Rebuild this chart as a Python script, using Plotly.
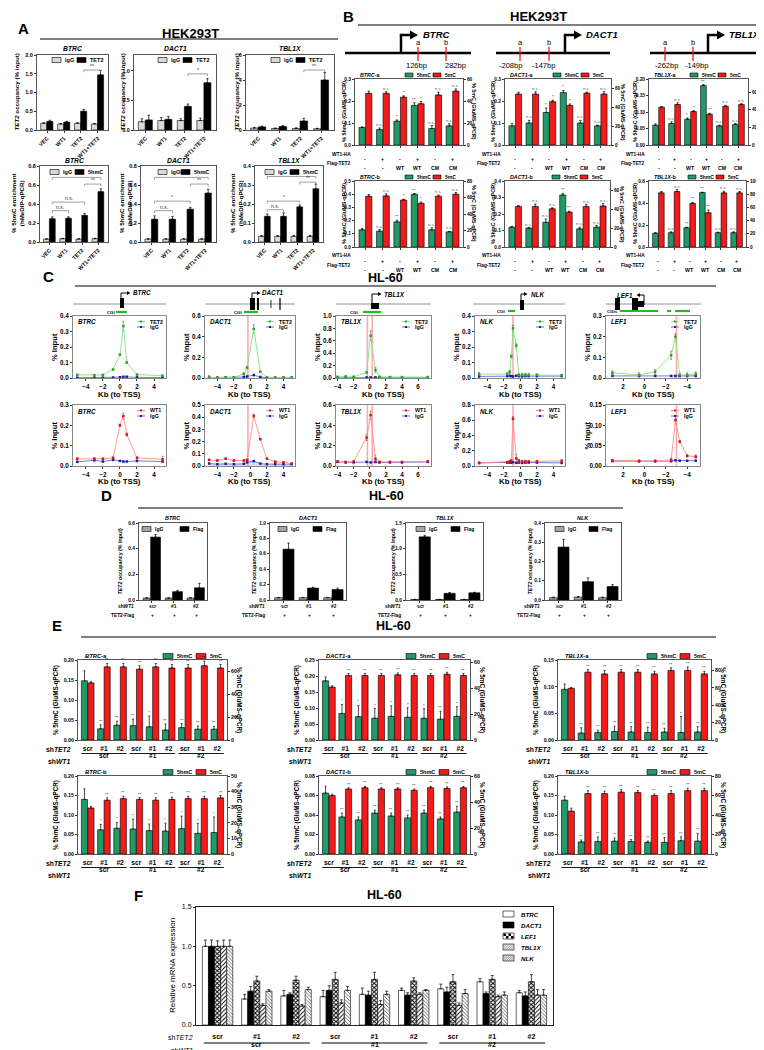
import plotly.graph_objects as go

W, H = 764, 1050
FONT = "Liberation Sans"
GREEN = "#1f9a68"
RED = "#f21a1a"
LGRAY = "#d9d9d9"
DGRAY = "#a6a6a6"
FRAME = "#555555"

# ======================= DATA =======================
# ---- Panel A (HEK293T ChIP / hMeDIP) ----
A_CATS = ["VEC", "WT1", "TET2", "WT1+TET2"]
A1_BTRC_IGG = [0.18, 0.16, 0.18, 0.16]
A1_BTRC_IGG_ERR = [0.01, 0.01, 0.01, 0.015]
A1_BTRC_TET2 = [0.23, 0.21, 0.50, 1.47]
A1_BTRC_TET2_ERR = [0.03, 0.02, 0.05, 0.12]
A1_DACT1_IGG = [0.14, 0.16, 0.16, 0.16]
A1_DACT1_IGG_ERR = [0.05, 0.05, 0.03, 0.04]
A1_DACT1_TET2 = [0.17, 0.18, 0.40, 0.80]
A1_DACT1_TET2_ERR = [0.08, 0.05, 0.04, 0.07]
A1_TBL1X_IGG = [0.15, 0.12, 0.12, 0.10]
A1_TBL1X_IGG_ERR = [0.05, 0.04, 0.06, 0.03]
A1_TBL1X_TET2 = [0.25, 0.28, 0.72, 4.0]
A1_TBL1X_TET2_ERR = [0.06, 0.08, 0.22, 0.6]
A1_BTRC_SIG = [(2, 3, 1.6, "**")]
A1_DACT1_SIG = [(2, 3, 0.95, "*")]
A1_TBL1X_SIG = [(2, 3, 4.8, "**")]

A2_IGG_ERR = [0.004, 0.004, 0.004, 0.004]
A2_BTRC_IGG = [0.03, 0.035, 0.03, 0.035]
A2_BTRC_5HMC = [0.245, 0.25, 0.28, 0.53]
A2_BTRC_5HMC_ERR = [0.02, 0.015, 0.02, 0.03]
A2_DACT1_IGG = [0.03, 0.03, 0.03, 0.03]
A2_DACT1_5HMC = [0.24, 0.24, 0.345, 0.515]
A2_DACT1_5HMC_ERR = [0.035, 0.03, 0.02, 0.04]
A2_TBL1X_IGG = [0.03, 0.03, 0.03, 0.03]
A2_TBL1X_5HMC = [0.135, 0.135, 0.185, 0.28]
A2_TBL1X_5HMC_ERR = [0.012, 0.018, 0.01, 0.025]
A2_BTRC_SIG = [(0, 1, 0.33, "n.s."), (0, 2, 0.42, "n.s."), (2, 3, 0.61, "**"), (0, 3, 0.68, "**")]
A2_DACT1_SIG = [(0, 1, 0.33, "n.s."), (0, 2, 0.43, "*"), (2, 3, 0.61, "**"), (0, 3, 0.68, "**")]
A2_TBL1X_SIG = [(0, 1, 0.17, "n.s."), (0, 2, 0.215, "*"), (2, 3, 0.315, "**"), (0, 3, 0.345, "**")]

# ---- Panel B (GluMS-qPCR, HEK293T) ----
B_WT1HA = ["-", "+", "-", "+", "-", "+"]
B_FLAG = ["-", "-", "WT", "WT", "CM", "CM"]
B_CATS = ["-/-", "+/-", "-/WT", "+/WT", "-/CM", "+/CM"]
Ba_BTRC_5HMC = [0.08, 0.07, 0.108, 0.18, 0.075, 0.087]
Ba_BTRC_5HMC_ERR = [0.002, 0.007, 0.006, 0.012, 0.013, 0.01]
Ba_BTRC_5MC = [47, 47, 43.5, 37.5, 45.5, 49]
Ba_BTRC_5MC_ERR = [2, 1.5, 1.2, 2, 2.5, 2]
Ba_BTRC_SIG_H = ["", "n.s.", "*", "**", "n.s.", "n.s."]
Ba_BTRC_SIG_M = ["", "n.s.", "*", "*", "n.s.", "n.s."]
Ba_DACT1_5HMC = [0.087, 0.10, 0.148, 0.238, 0.10, 0.087]
Ba_DACT1_5HMC_ERR = [0.012, 0.012, 0.02, 0.01, 0.012, 0.003]
Ba_DACT1_5MC = [54, 54, 46, 42, 55, 54]
Ba_DACT1_5MC_ERR = [2, 2.5, 1.5, 1.5, 1, 2.5]
Ba_DACT1_SIG_H = ["", "n.s.", "*", "*", "n.s.", "n.s."]
Ba_DACT1_SIG_M = ["", "n.s.", "*", "*", "n.s.", "n.s."]
Ba_TBL1X_5HMC = [0.06, 0.065, 0.078, 0.18, 0.058, 0.062]
Ba_TBL1X_5HMC_ERR = [0.004, 0.005, 0.004, 0.003, 0.002, 0.003]
Ba_TBL1X_5MC = [43, 46, 38, 35, 44, 46]
Ba_TBL1X_5MC_ERR = [0.5, 2, 1, 1, 1, 1]
Ba_TBL1X_SIG_H = ["", "n.s.", "*", "**", "n.s.", "n.s."]
Ba_TBL1X_SIG_M = ["", "n.s.", "*", "**", "n.s.", "n.s."]
Bb_BTRC_5HMC = [0.13, 0.12, 0.19, 0.40, 0.13, 0.115]
Bb_BTRC_5HMC_ERR = [0.01, 0.012, 0.012, 0.005, 0.015, 0.003]
Bb_BTRC_5MC = [61.5, 62, 57, 53, 61.5, 64]
Bb_BTRC_5MC_ERR = [2, 2.5, 1, 1.5, 1.5, 2]
Bb_BTRC_SIG_H = ["", "n.s.", "**", "**", "n.s.", "n.s."]
Bb_BTRC_SIG_M = ["", "n.s.", "*", "*", "n.s.", "n.s."]
Bb_DACT1_5HMC = [0.12, 0.115, 0.15, 0.315, 0.11, 0.12]
Bb_DACT1_5HMC_ERR = [0.005, 0.002, 0.02, 0.01, 0.01, 0.01]
Bb_DACT1_5MC = [43, 43, 40.5, 37, 43, 43.5]
Bb_DACT1_5MC_ERR = [1, 2.5, 1, 1, 2, 2.5]
Bb_DACT1_SIG_H = ["", "n.s.", "n.s.", "**", "n.s.", "n.s."]
Bb_DACT1_SIG_M = ["", "n.s.", "n.s.", "**", "n.s.", "n.s."]
Bb_TBL1X_5HMC = [0.125, 0.13, 0.175, 0.495, 0.13, 0.13]
Bb_TBL1X_5HMC_ERR = [0.005, 0.008, 0.005, 0.003, 0.005, 0.008]
Bb_TBL1X_5MC = [82, 84, 66, 52, 82, 82]
Bb_TBL1X_5MC_ERR = [2, 3, 1.5, 4, 2.5, 2]
Bb_TBL1X_SIG_H = ["", "n.s.", "**", "**", "n.s.", "n.s."]
Bb_TBL1X_SIG_M = ["", "n.s.", "**", "**", "n.s.", "n.s."]

# ---- Panel C (HL-60 ChIP profiles) ----
C_BTRC_KB = [-5, -3, -2, -0.8, 0, 0.4, 0.8, 2, 5]
C_BTRC_TET2 = [0.02, 0.018, 0.02, 0.055, 0.15, 0.335, 0.10, 0.022, 0.015]
C_BTRC_TET2_ERR = [0.003, 0.003, 0.002, 0.004, 0.005, 0.03, 0.006, 0.003, 0.003]
C_BTRC_IGG1 = [0.002, 0.002, 0.002, 0.003, 0.005, 0.008, 0.008, 0.004, 0.003]
C_BTRC_WT1 = [0.035, 0.035, 0.035, 0.04, 0.2, 0.245, 0.155, 0.04, 0.033]
C_BTRC_WT1_ERR = [0.005, 0.006, 0.005, 0.005, 0.006, 0.015, 0.008, 0.005, 0.015]
C_BTRC_IGG2 = [0.02, 0.028, 0.022, 0.03, 0.025, 0.022, 0.022, 0.025, 0.022]

C_DACT1_KB = [-5, -4, -3, -2, -0.8, -0.4, 0.4, 1.2, 2, 3, 4, 5]
C_DACT1_TET2 = [0.005, 0.005, 0.005, 0.005, 0.04, 0.1, 0.475, 0.06, 0.005, 0.005, 0.005, 0.005]
C_DACT1_TET2_ERR = [0.02, 0.005, 0.005, 0.005, 0.01, 0.01, 0.04, 0.005, 0.005, 0.005, 0.005, 0.005]
C_DACT1_IGG1 = [0.003, 0.003, 0.003, 0.003, 0.01, 0.015, 0.028, 0.01, 0.003, 0.003, 0.003, 0.003]
C_DACT1_WT1 = [0.05, 0.045, 0.06, 0.045, 0.045, 0.05, 0.41, 0.22, 0.06, 0.035, 0.03, 0.02]
C_DACT1_WT1_ERR = [0.005, 0.005, 0.005, 0.005, 0.005, 0.005, 0.015, 0.005, 0.005, 0.005, 0.005, 0.005]
C_DACT1_IGG2 = [0.02, 0.015, 0.018, 0.015, 0.018, 0.03, 0.04, 0.02, 0.015, 0.015, 0.015, 0.015]

C_TBL1X_KB = [-4, -3, -2, -0.4, 0.1, 0.7, 1.2, 2.5, 4, 7.2]
C_TBL1X_TET2 = [0.02, 0.025, 0.02, 0.09, 0.68, 0.13, 0.02, 0.015, 0.015, 0.015]
C_TBL1X_TET2_ERR = [0.005, 0.005, 0.005, 0.01, 0.08, 0.04, 0.005, 0.005, 0.005, 0.005]
C_TBL1X_IGG1 = [0.005, 0.005, 0.005, 0.01, 0.01, 0.01, 0.005, 0.005, 0.005, 0.005]
C_TBL1X_WT1 = [0.045, 0.04, 0.045, 0.28, 0.5, 0.07, 0.04, 0.04, 0.04, 0.045]
C_TBL1X_WT1_ERR = [0.005, 0.005, 0.005, 0.03, 0.04, 0.04, 0.005, 0.005, 0.005, 0.005]
C_TBL1X_IGG2 = [0.04, 0.035, 0.035, 0.04, 0.035, 0.04, 0.035, 0.035, 0.035, 0.04]

C_NLK_KB = [-5, -1.6, -1.3, -1.1, -0.9, -0.5, -0.2, 0.2, 0.6, 1, 2, 5]
C_NLK_TET2 = [0.025, 0.025, 0.04, 0.14, 0.32, 0.21, 0.02, 0.02, 0.02, 0.02, 0.02, 0.018]
C_NLK_TET2_ERR = [0.01, 0.01, 0.01, 0.01, 0.02, 0.015, 0.01, 0.01, 0.01, 0.01, 0.005, 0.005]
C_NLK_IGG1 = [0.01, 0.012, 0.015, 0.012, 0.01, 0.015, 0.012, 0.01, 0.012, 0.012, 0.012, 0.012]
C_NLK_WT1 = [0.04, 0.05, 0.06, 0.07, 0.62, 0.1, 0.07, 0.06, 0.06, 0.06, 0.06, 0.065]
C_NLK_WT1_ERR = [0.01, 0.01, 0.015, 0.015, 0.03, 0.05, 0.02, 0.015, 0.015, 0.01, 0.01, 0.02]
C_NLK_IGG2 = [0.04, 0.045, 0.045, 0.045, 0.05, 0.04, 0.045, 0.04, 0.045, 0.045, 0.045, 0.04]

C_LEF1_KB = [3, 0.5, -1, -2.5, -2.9, -3.3, -4, -4.8]
C_LEF1_TET2 = [0.025, 0.015, 0.03, 0.11, 0.2, 0.015, 0.015, 0.02]
C_LEF1_TET2_ERR = [0.01, 0.01, 0.01, 0.02, 0.015, 0.01, 0.01, 0.01]
C_LEF1_IGG1 = [0.01, 0.01, 0.01, 0.01, 0.01, 0.01, 0.01, 0.01]
C_LEF1_WT1 = [0.014, 0.012, 0.012, 0.015, 0.113, 0.06, 0.025, 0.023]
C_LEF1_WT1_ERR = [0.003, 0.003, 0.003, 0.005, 0.01, 0.003, 0.003, 0.004]
C_LEF1_IGG2 = [0.012, 0.012, 0.012, 0.012, 0.014, 0.013, 0.013, 0.013]

# ---- Panel D (TET2-Flag ChIP, HL-60) ----
D_SHWT1 = ["scr", "#1", "#2"]
D_TET2FLAG = ["+", "+", "+"]
D_IGG_ERR = [0.003, 0.003, 0.003]
D_BTRC_IGG = [0.015, 0.015, 0.015]
D_BTRC_FLAG = [0.49, 0.065, 0.095]
D_BTRC_FLAG_ERR = [0.02, 0.01, 0.035]
D_DACT1_IGG = [0.03, 0.03, 0.03]
D_DACT1_FLAG = [0.66, 0.155, 0.135]
D_DACT1_FLAG_ERR = [0.08, 0.01, 0.02]
D_TBL1X_IGG = [0.01, 0.01, 0.01]
D_TBL1X_FLAG = [1.23, 0.13, 0.14]
D_TBL1X_FLAG_ERR = [0.03, 0.015, 0.01]
D_NLK_IGG = [0.012, 0.015, 0.012]
D_NLK_FLAG = [0.275, 0.095, 0.07]
D_NLK_FLAG_ERR = [0.04, 0.02, 0.01]

# ---- Panel E (GluMS-qPCR, HL-60) ----
E_SHTET2 = ["scr", "#1", "#2", "scr", "#1", "#2", "scr", "#1", "#2"]
E_SHWT1 = ["scr", "scr", "scr", "#1", "#1", "#1", "#2", "#2", "#2"]
E_CATS = ["scr|scr", "#1|scr", "#2|scr", "scr|#1", "#1|#1", "#2|#1", "scr|#2", "#1|#2", "#2|#2"]
Ea_BTRC_5HMC = [0.148, 0.028, 0.037, 0.036, 0.033, 0.025, 0.031, 0.027, 0.027]
Ea_BTRC_5HMC_ERR = [0.025, 0.01, 0.01, 0.016, 0.027, 0.015, 0.01, 0.008, 0.007]
Ea_BTRC_5MC = [50, 64, 64, 62, 64, 63, 63, 65, 63]
Ea_BTRC_5MC_ERR = [1, 3, 3, 3, 3, 3, 3, 4, 3]
Ea_BTRC_SIG_H = ["", "**", "**", "**", "*", "**", "**", "**", "**"]
Ea_DACT1_5HMC = [0.185, 0.083, 0.073, 0.068, 0.074, 0.071, 0.068, 0.065, 0.074]
Ea_DACT1_5HMC_ERR = [0.012, 0.028, 0.035, 0.03, 0.033, 0.03, 0.03, 0.025, 0.03]
Ea_DACT1_5MC = [41, 50, 50, 50, 50.5, 50, 50, 51, 50]
Ea_DACT1_5MC_ERR = [1, 1.5, 1.5, 1.5, 1.5, 1.5, 1.5, 1.5, 1.5]
Ea_DACT1_SIG_H = ["", "*", "*", "*", "*", "*", "*", "**", "*"]
Ea_TBL1X_5HMC = [0.095, 0.013, 0.014, 0.016, 0.015, 0.014, 0.015, 0.014, 0.015]
Ea_TBL1X_5HMC_ERR = [0.01, 0.01, 0.004, 0.01, 0.01, 0.01, 0.007, 0.03, 0.01]
Ea_TBL1X_5MC = [59.5, 78, 76, 78, 78, 76, 80, 80, 76]
Ea_TBL1X_5MC_ERR = [1, 3, 4, 3, 3, 3, 3, 4, 3]
Ea_TBL1X_SIG_H = ["", "**", "**", "**", "**", "**", "**", "*", "**"]
Eb_BTRC_5HMC = [0.14, 0.062, 0.066, 0.064, 0.06, 0.059, 0.065, 0.053, 0.055]
Eb_BTRC_5HMC_ERR = [0.027, 0.014, 0.015, 0.025, 0.017, 0.02, 0.032, 0.025, 0.04]
Eb_BTRC_5MC = [29.5, 34.5, 35.5, 35, 34.5, 35, 35.5, 35.5, 36]
Eb_BTRC_5MC_ERR = [1, 1.5, 1.5, 1.2, 1.5, 1.5, 1.5, 1.5, 1.5]
Eb_BTRC_SIG_H = ["", "*", "*", "*", "*", "*", "*", "*", "*"]
Eb_DACT1_5HMC = [0.0625, 0.038, 0.035, 0.042, 0.039, 0.037, 0.042, 0.036, 0.043]
Eb_DACT1_5HMC_ERR = [0.007, 0.004, 0.003, 0.003, 0.003, 0.003, 0.003, 0.002, 0.006]
Eb_DACT1_5MC = [45, 50, 51, 50, 50, 49, 51, 50.5, 51]
Eb_DACT1_5MC_ERR = [1, 1, 1, 1, 1, 1, 1, 1, 1]
Eb_DACT1_SIG_H = ["", "**", "**", "**", "**", "**", "**", "**", "**"]
Eb_TBL1X_5HMC = [0.138, 0.031, 0.032, 0.033, 0.032, 0.03, 0.03, 0.034, 0.033]
Eb_TBL1X_5HMC_ERR = [0.01, 0.005, 0.012, 0.008, 0.005, 0.003, 0.012, 0.01, 0.02]
Eb_TBL1X_5MC = [44, 62, 62, 63.5, 63, 60, 62, 65, 65]
Eb_TBL1X_5MC_ERR = [3, 3, 2.5, 2.5, 2, 1.5, 3, 2.5, 2.5]
Eb_TBL1X_SIG_H = ["", "**", "**", "**", "**", "**", "**", "**", "**"]
E_SIG_M = ["", "**", "**", "**", "**", "**", "**", "**", "**"]

# ---- Panel F (relative mRNA, HL-60) ----
F_GENES = ["BTRC", "DACT1", "LEF1", "TBL1X", "NLK"]
F_BTRC = [1.0, 0.33, 0.37, 0.36, 0.39, 0.44, 0.46, 0.55, 0.41]
F_BTRC_ERR = [0.08, 0.06, 0.07, 0.08, 0.08, 0.03, 0.06, 0.04, 0.03]
F_DACT1 = [1.0, 0.43, 0.39, 0.44, 0.38, 0.38, 0.42, 0.40, 0.37]
F_DACT1_ERR = [0.08, 0.06, 0.02, 0.06, 0.05, 0.03, 0.06, 0.02, 0.05]
F_LEF1 = [1.0, 0.56, 0.57, 0.58, 0.58, 0.56, 0.55, 0.58, 0.55]
F_LEF1_ERR = [0.07, 0.06, 0.05, 0.09, 0.09, 0.04, 0.09, 0.05, 0.09]
F_TBL1X = [1.0, 0.25, 0.24, 0.28, 0.26, 0.39, 0.25, 0.36, 0.38]
F_TBL1X_ERR = [0.08, 0.02, 0.02, 0.04, 0.05, 0.02, 0.03, 0.02, 0.07]
F_NLK = [1.0, 0.43, 0.45, 0.44, 0.39, 0.44, 0.40, 0.38, 0.38]
F_NLK_ERR = [0.08, 0.02, 0.03, 0.05, 0.04, 0.01, 0.05, 0.04, 0.07]

# ======================= HELPERS =======================
fig = go.Figure()
LAY, ANN, SHP = {}, [], []
NAX = [0]


def X(v):
    return v / W


def Y(v):
    return 1 - v / H


def txt(x, y, s, size=6, anchor="center", angle=0, color="black", bold=True, italic=False):
    if italic:
        s = "<i>" + s + "</i>"
    if bold:
        s = "<b>" + s + "</b>"
    ANN.append(dict(x=X(x), y=Y(y), xref="paper", yref="paper", text=s, showarrow=False,
                    font=dict(size=size, family=FONT, color=color), xanchor=anchor,
                    yanchor="middle", textangle=angle))


def seg(x0, y0, x1, y1, color="black", w=1):
    SHP.append(dict(type="line", xref="paper", yref="paper", x0=X(x0), y0=Y(y0), x1=X(x1), y1=Y(y1),
                    line=dict(color=color, width=w)))


def rect(x0, y0, x1, y1, fill, line="black", lw=0.6):
    SHP.append(dict(type="rect", xref="paper", yref="paper", x0=X(x0), y0=Y(y0), x1=X(x1), y1=Y(y1),
                    fillcolor=fill, line=dict(color=line, width=lw)))


def tri(pts, fill="black"):
    d = "M " + " L ".join(f"{X(a):.5f},{Y(b):.5f}" for a, b in pts) + " Z"
    SHP.append(dict(type="path", xref="paper", yref="paper", path=d, fillcolor=fill,
                    line=dict(width=0, color=fill)))


def axes(x0, x1, y0, y1, xkw=None, ykw=None, y2kw=None, color=FRAME, tsize=5.5):
    NAX[0] += 1
    n = NAX[0]
    s = "" if n == 1 else str(n)
    base = dict(showgrid=False, zeroline=False, showline=True, linecolor=color, linewidth=1,
                ticks="outside", ticklen=2, tickwidth=0.8, tickcolor="#333",
                tickfont=dict(size=tsize, family=FONT, color="black", weight="bold"),
                mirror=True, fixedrange=True)
    xa = dict(base, domain=[X(x0), X(x1)], anchor="y" + s)
    xa.update(xkw or {})
    ya = dict(base, domain=[Y(y1), Y(y0)], anchor="x" + s)
    ya.update(ykw or {})
    LAY["xaxis" + s] = xa
    LAY["yaxis" + s] = ya
    out = ["x" + s, "y" + s]
    if y2kw is not None:
        NAX[0] += 1
        m = NAX[0]
        y2 = dict(base, overlaying="y" + s, side="right", anchor="x" + s, mirror=False)
        y2.update(y2kw)
        LAY["yaxis" + str(m)] = y2
        out.append("y" + str(m))
    return out


def bar(xa, ya, cats, vals, errs, color, off, w, lw=0.6, pattern=None, ew=1.2):
    m = dict(color=color, line=dict(color="black", width=lw))
    if pattern:
        m["pattern"] = pattern
    fig.add_trace(go.Bar(x=cats, y=vals, offset=off, width=w, marker=m,
                         error_y=dict(type="data", array=errs, arrayminus=[0] * len(vals), symmetric=False,
                                      color="black", thickness=0.7, width=ew),
                         xaxis=xa, yaxis=ya, showlegend=False, hoverinfo="skip"))


def sig_text(xa, ya, xpos, yv, s, size=4.6):
    if not s:
        return
    col = "#555" if s == "n.s." else "black"
    ANN.append(dict(x=xpos, y=yv, xref=xa, yref=ya, text=s, showarrow=False, yanchor="bottom",
                    font=dict(size=size, family=FONT, color=col), yshift=-1))


def bracket(xa, ya, i, j, h, drop, label):
    for (a0, b0, a1, b1) in [(i, h - drop, i, h), (i, h, j, h), (j, h, j, h - drop)]:
        SHP.append(dict(type="line", xref=xa, yref=ya, x0=a0, y0=b0, x1=a1, y1=b1,
                        line=dict(color="#777", width=0.7)))
    ANN.append(dict(x=(i + j) / 2, y=h, xref=xa, yref=ya, text=label, showarrow=False,
                    font=dict(size=5, family=FONT, color="#333"), yanchor="bottom", yshift=-1))


def leg(items, y, bw=9, bh=5, size=5.5):
    for (x, color, label) in items:
        rect(x, y - bh / 2, x + bw, y + bh / 2, color)
        txt(x + bw + 2, y, label, size, anchor="left")


# ======================= PANEL A =======================
txt(15, 20, "A", 15)
txt(182, 25, "HEK293T", 13)
seg(32, 31, 330, 31, "black", 1.2)


def a_plot(box, igg, igg_e, val, val_e, yr, dt, fmt, gene, legx, legy, lab2, ylab, ylabx, sigs):
    x0, x1, y0, y1 = box
    xa, ya = axes(x0, x1, y0, y1,
                  xkw=dict(type="category", categoryorder="array", categoryarray=A_CATS,
                           range=[-0.6, 3.6], tickangle=-45),
                  ykw=dict(range=yr, dtick=dt, tickformat=fmt))
    bar(xa, ya, A_CATS, igg, igg_e, LGRAY, -0.38, 0.36)
    bar(xa, ya, A_CATS, val, val_e, "black", -0.02, 0.36)
    for (i, j, h, s) in sigs:
        bracket(xa, ya, i + 0.16, j + 0.16, h, (yr[1] - yr[0]) * 0.03, s)
    txt((x0 + x1) / 2, y0 - 6, gene, 6.8, italic=True)
    leg([(legx[0], LGRAY, "IgG"), (legx[1], "black", lab2)], legy)
    txt(ylabx, (y0 + y1) / 2, ylab, 6.2, angle=-90)


Y1A = "<i>TET2</i> occupancy (% input)"
Y2A = "% 5hmC enrichment<br>(hMeDIP-qPCR)"
a_plot((29, 100, 47, 122), A1_BTRC_IGG, A1_BTRC_IGG_ERR, A1_BTRC_TET2, A1_BTRC_TET2_ERR,
       [0, 2.0], 0.5, ".1f", "BTRC", (44, 69), 52, "TET2", Y1A, 8, A1_BTRC_SIG)
a_plot((126, 208, 47, 122), A1_DACT1_IGG, A1_DACT1_IGG_ERR, A1_DACT1_TET2, A1_DACT1_TET2_ERR,
       [0, 1.27], 0.5, ".1f", "DACT1", (150, 175), 52, "TET2", Y1A, 114, A1_DACT1_SIG)
a_plot((238, 326, 47, 122), A1_TBL1X_IGG, A1_TBL1X_IGG_ERR, A1_TBL1X_TET2, A1_TBL1X_TET2_ERR,
       [0, 6], 2, "d", "TBL1X", (263, 288), 52, "TET2", Y1A, 228, A1_TBL1X_SIG)
a_plot((32, 100, 158, 234), A2_BTRC_IGG, A2_IGG_ERR, A2_BTRC_5HMC, A2_BTRC_5HMC_ERR,
       [0, 0.8], 0.2, ".1f", "BTRC", (42, 67), 164, "5hmC", Y2A, 10, A2_BTRC_SIG)
a_plot((133, 208, 158, 234), A2_DACT1_IGG, A2_IGG_ERR, A2_DACT1_5HMC, A2_DACT1_5HMC_ERR,
       [0, 0.8], 0.2, ".1f", "DACT1", (150, 173), 164, "5hmC", Y2A, 118, A2_DACT1_SIG)
a_plot((247, 315, 158, 234), A2_TBL1X_IGG, A2_IGG_ERR, A2_TBL1X_5HMC, A2_TBL1X_5HMC_ERR,
       [0, 0.4], 0.1, ".1f", "TBL1X", (257, 282), 164, "5hmC", Y2A, 229, A2_TBL1X_SIG)

# ======================= PANEL B =======================
txt(340, 9, "B", 15)
txt(530, 9, "HEK293T", 13)
seg(350, 17, 764, 17, "black", 1.2)


def gene_diag_B(lx0, lx1, ax, name, namex, ma, mb, la, lb, lax, lbx):
    seg(lx0, 45, lx1, 45, "black", 2.5)
    seg(ax, 46, ax, 27, "black", 2.5)
    seg(ax - 1.2, 27, ax + 10, 27, "black", 2.5)
    tri([(ax + 9, 22.5), (ax + 17, 27), (ax + 9, 31.5)])
    txt(namex, 26, name, 9.5, anchor="left", italic=True)
    for xm, l in ((ma, "a"), (mb, "b")):
        seg(xm, 39, xm, 53, RED, 1.3)
        txt(xm, 35, l, 7.5, bold=False)
    txt(lax, 58, la, 7.5, bold=False)
    txt(lbx, 58, lb, 7.5, bold=False)


gene_diag_B(337, 463, 393, "BTRC", 413, 410, 438, "126bp", "282bp", 408, 447)
gene_diag_B(488, 602, 557, "DACT1", 576, 512, 541, "-208bp", "-147bp", 502, 535)
gene_diag_B(642, 764, 700, "TBL1X", 719, 657, 685, "-262bp", "-149bp", 658, 688)


def b_plot(box, v1, e1, v2, e2, s1, s2, yr, dt, fmt, yr2, dt2, title, ylx, yrx, tick_y):
    x0, x1, y0, y1 = box
    xa, ya, ya2 = axes(x0, x1, y0, y1,
                       xkw=dict(type="category", categoryorder="array", categoryarray=B_CATS,
                                range=[-0.6, 5.6], showticklabels=False),
                       ykw=dict(range=yr, dtick=dt, tickformat=fmt, tickfont=dict(size=4.8, family=FONT, weight="bold", color="black")),
                       y2kw=dict(range=yr2, dtick=dt2, tickfont=dict(size=4.8, family=FONT, weight="bold", color="black")))
    w = 0.36
    bar(xa, ya, B_CATS, v1, e1, GREEN, -w - 0.01, w)
    bar(xa, ya2, B_CATS, v2, e2, RED, 0.01, w)
    for i in range(len(B_CATS)):
        sig_text(xa, ya, i - w / 2 - 0.01, v1[i] + e1[i], s1[i], 4.2)
        sig_text(xa, ya2, i + w / 2 + 0.01, v2[i] + e2[i], s2[i], 4.2)
    g, suf = title.split("-")
    txt(x0 + 3, y0 - 4, "<i>" + g + "</i>-" + suf, 5.3, anchor="left")
    leg([(x1 - 58, GREEN, "5hmC"), (x1 - 30, RED, "5mC")], y0 - 4, bw=8, bh=4, size=5)
    txt(ylx, (y0 + y1) / 2, "% 5hmC (GluMS-qPCR)", 5.5, angle=-90)
    txt(yrx, (y0 + y1) / 2, "% 5mC (GluMS-qPCR)", 5.4, angle=90)
    txt(x0 - 2, tick_y, "WT1-HA", 4.8, anchor="right")
    txt(x0 - 2, tick_y + 9, "Flag-TET2", 4.8, anchor="right")
    for i in range(len(B_CATS)):
        ANN.append(dict(x=i, y=Y(tick_y), xref=xa, yref="paper", text="<b>" + B_WT1HA[i] + "</b>",
                        showarrow=False, font=dict(size=5.2, family=FONT, color="black")))
        ANN.append(dict(x=i, y=Y(tick_y + 9), xref=xa, yref="paper", text="<b>" + B_FLAG[i] + "</b>",
                        showarrow=False, font=dict(size=5.2, family=FONT, color="black")))


b_plot((347, 455, 71, 137), Ba_BTRC_5HMC, Ba_BTRC_5HMC_ERR, Ba_BTRC_5MC, Ba_BTRC_5MC_ERR,
       Ba_BTRC_SIG_H, Ba_BTRC_SIG_M, [0, 0.3], 0.1, ".1f", [0, 60], 20, "BTRC-a", 336, 466, 146)
b_plot((497, 603, 71, 137), Ba_DACT1_5HMC, Ba_DACT1_5HMC_ERR, Ba_DACT1_5MC, Ba_DACT1_5MC_ERR,
       Ba_DACT1_SIG_H, Ba_DACT1_SIG_M, [0, 0.3], 0.1, ".1f", [0, 70], 20, "DACT1-a", 485, 615, 146)
b_plot((641, 740, 71, 137), Ba_TBL1X_5HMC, Ba_TBL1X_5HMC_ERR, Ba_TBL1X_5MC, Ba_TBL1X_5MC_ERR,
       Ba_TBL1X_SIG_H, Ba_TBL1X_SIG_M, [0, 0.2], 0.05, ".2f", [0, 75], 20, "TBL1X-a", 627, 752, 146)
b_plot((347, 455, 173, 239), Bb_BTRC_5HMC, Bb_BTRC_5HMC_ERR, Bb_BTRC_5MC, Bb_BTRC_5MC_ERR,
       Bb_BTRC_SIG_H, Bb_BTRC_SIG_M, [0, 0.5], 0.1, ".1f", [0, 80], 20, "BTRC-b", 336, 466, 248)
b_plot((497, 602, 173, 239), Bb_DACT1_5HMC, Bb_DACT1_5HMC_ERR, Bb_DACT1_5MC, Bb_DACT1_5MC_ERR,
       Bb_DACT1_SIG_H, Bb_DACT1_SIG_M, [0, 0.4], 0.1, ".1f", [0, 70], 20, "DACT1-b", 485, 614, 248)
b_plot((641, 738, 173, 239), Bb_TBL1X_5HMC, Bb_TBL1X_5HMC_ERR, Bb_TBL1X_5MC, Bb_TBL1X_5MC_ERR,
       Bb_TBL1X_SIG_H, Bb_TBL1X_SIG_M, [0, 0.6], 0.2, ".1f", [0, 100], 20, "TBL1X-b", 627, 752, 248)

# ======================= PANEL C =======================
txt(40, 268, "C", 15)
txt(377, 270, "HL-60", 12.5)
seg(67, 278, 708, 278, "black", 1.2)

C_TET2_LINE, C_TET2_MK = "#86e086", "#22aa22"
C_IGG_LINE, C_IGG_MK = "#6a6ae0", "#1a1aa8"
C_WT1_LINE, C_WT1_MK = "#ff8c8c", "#e01010"

C_SPECS = [
    ("BTRC", (65, 158), C_BTRC_KB, [-5.5, 5.4], C_BTRC_TET2, C_BTRC_TET2_ERR, C_BTRC_IGG1, [0, 0.4], 0.1, ".1f",
     C_BTRC_WT1, C_BTRC_WT1_ERR, C_BTRC_IGG2, [0, 0.3], 0.1, ".1f", []),
    ("DACT1", (197, 287), C_DACT1_KB, [-5.5, 5.4], C_DACT1_TET2, C_DACT1_TET2_ERR, C_DACT1_IGG1, [0, 0.6], 0.2, ".1f",
     C_DACT1_WT1, C_DACT1_WT1_ERR, C_DACT1_IGG2, [0, 0.5], 0.1, ".1f", [-0.3]),
    ("TBL1X", (328, 423), C_TBL1X_KB, [-4.2, 7.6], C_TBL1X_TET2, C_TBL1X_TET2_ERR, C_TBL1X_IGG1, [0, 1.0], 0.2, ".1f",
     C_TBL1X_WT1, C_TBL1X_WT1_ERR, C_TBL1X_IGG2, [0, 0.6], 0.2, ".1f", [-0.3, 0.3]),
    ("NLK", (467, 557), C_NLK_KB, [-5.5, 5.4], C_NLK_TET2, C_NLK_TET2_ERR, C_NLK_IGG1, [0, 0.4], 0.1, ".1f",
     C_NLK_WT1, C_NLK_WT1_ERR, C_NLK_IGG2, [0, 0.8], 0.2, ".1f", [-0.9]),
    ("LEF1", (598, 692), C_LEF1_KB, [3.6, -5.2], C_LEF1_TET2, C_LEF1_TET2_ERR, C_LEF1_IGG1, [0, 0.3], 0.1, ".1f",
     C_LEF1_WT1, C_LEF1_WT1_ERR, C_LEF1_IGG2, [0, 0.15], 0.05, ".2f", [-3.0]),
]


def c_plot(gene, xb, kb, xr, val, err, igg, yr, dt, fmt, y0, y1, lab, lc, mc, vlines, shade):
    x0, x1 = xb
    xa, ya = axes(x0, x1, y0, y1, xkw=dict(range=xr, dtick=2, tick0=0),
                  ykw=dict(range=yr, dtick=dt, tickformat=fmt), color="#888", tsize=6.3)
    for v in vlines:
        SHP.append(dict(type="line", xref=xa, yref=ya + " domain", x0=v, x1=v, y0=0, y1=1,
                        line=dict(color="#ffaaaa", width=1.6), layer="below"))
    fig.add_trace(go.Scatter(x=kb, y=igg, mode="lines+markers", xaxis=xa, yaxis=ya,
                             line=dict(color=C_IGG_LINE, width=0.9),
                             marker=dict(color=C_IGG_MK, size=2.5, symbol="square"),
                             fill="tozeroy" if shade else None,
                             fillcolor="rgba(150,160,200,0.35)",
                             showlegend=False, hoverinfo="skip"))
    fig.add_trace(go.Scatter(x=kb, y=val, mode="lines+markers", xaxis=xa, yaxis=ya,
                             line=dict(color=lc, width=0.9), marker=dict(color=mc, size=2.5, symbol="square"),
                             error_y=dict(type="data", array=err, color="#555", thickness=0.6, width=1),
                             showlegend=False, hoverinfo="skip"))
    txt(x0 + 3, y0 + 6, gene, 6.3, anchor="left", italic=True)
    for k, (l_c, m_c, name) in enumerate(((lc, mc, lab), (C_IGG_LINE, C_IGG_MK, "IgG"))):
        yy = y0 + 5.5 + k * 5.5
        seg(x1 - 29, yy, x1 - 21, yy, l_c, 1)
        rect(x1 - 26, yy - 1, x1 - 24, yy + 1, m_c, m_c, 0)
        txt(x1 - 18, yy, name, 5.3, anchor="left")
    txt(x0 - 19, (y0 + y1) / 2, "% Input", 7.6, angle=-90)
    txt((x0 + x1) / 2, y1 + 16, "Kb (to TSS)", 7.8)


for (gene, xb, kb, xr, t2, t2e, ig1, yr1, dt1, f1, w1, w1e, ig2, yr2, dt2, f2, vl) in C_SPECS:
    c_plot(gene, xb, kb, xr, t2, t2e, ig1, yr1, dt1, f1, 308, 370, "TET2", C_TET2_LINE, C_TET2_MK, vl, False)
    c_plot(gene, xb, kb, xr, w1, w1e, ig2, yr2, dt2, f2, 397, 458, "WT1", C_WT1_LINE, C_WT1_MK, vl, gene == "DACT1")

# gene diagrams above C
CG = "#22bb22"


def c_arrow(xv, ytop, xend, right=True):
    seg(xv, 297, xv, ytop, "black", 1)
    seg(xv, ytop, xend, ytop, "black", 1)
    if right:
        tri([(xend, ytop - 2), (xend + 3.5, ytop), (xend, ytop + 2)])
    else:
        tri([(xend, ytop - 2), (xend - 3.5, ytop), (xend, ytop + 2)])


seg(65, 296, 158, 296, "#777", 0.8)
rect(112, 290, 116, 300, "black", "black", 0)
c_arrow(113, 285, 119)
txt(123, 285, "BTRC", 6.3, anchor="left", italic=True)
txt(103, 304, "CGI", 4.3)
seg(108, 304, 119, 304, CG, 2.2)

seg(197, 296, 287, 296, "#777", 0.8)
rect(242, 290, 247, 302, "black", "black", 0)
rect(249, 290, 251, 302, "black", "black", 0)
seg(263, 292, 263, 300, "black", 0.8)
seg(272, 290, 272, 302, "black", 1.2)
c_arrow(244, 285, 249)
txt(252, 285, "DACT1", 6.3, anchor="left", italic=True)
txt(230, 304, "CGI", 4.3)
seg(236, 304, 250, 304, CG, 2.2)

seg(328, 296, 423, 296, "#777", 0.8)
rect(363, 295, 371, 301, "black", "black", 0)
c_arrow(364, 286, 370)
txt(374, 286, "TBL1X", 6.3, anchor="left", italic=True)
txt(346, 304, "CGI", 4.3)
seg(355, 304, 373, 304, CG, 2.2)

seg(465, 296, 557, 296, "#777", 0.8)
rect(512, 292, 516, 302, "black", "black", 0)
c_arrow(513, 286, 516)
txt(521, 286, "NLK", 6.3, anchor="left", italic=True)
txt(493, 303, "CGI", 4.3)
seg(500, 303, 507, 303, CG, 2.2)

seg(598, 296, 693, 296, "#777", 0.8)
rect(607, 290, 612, 302, "black", "black", 0)
rect(624, 290, 630, 302, "black", "black", 0)
rect(630, 293, 636, 299, "black", "black", 0)
c_arrow(636, 287, 632, right=False)
txt(617, 287, "LEF1", 6.3, italic=True)
txt(604, 303, "CGIs", 4.3)
seg(612, 303, 650, 303, CG, 2.2)
seg(659, 303, 663, 303, CG, 2.2)
seg(667, 303, 682, 303, CG, 2.2)

# ======================= PANEL D =======================
txt(98, 487, "D", 15)
txt(378, 488, "HL-60", 12.5)
seg(130, 500, 615, 500, "black", 1.2)


def d_plot(box, igg, val, verr, yr, dt, fmt, gene, legx, ylx):
    x0, x1, y0, y1 = box
    xa, ya = axes(x0, x1, y0, y1,
                  xkw=dict(type="category", categoryorder="array", categoryarray=D_SHWT1,
                           range=[-0.55, 2.55], showticklabels=False),
                  ykw=dict(range=yr, dtick=dt, tickformat=fmt, tickfont=dict(size=4.8, family=FONT, weight="bold", color="black")))
    bar(xa, ya, D_SHWT1, igg, D_IGG_ERR, DGRAY, -0.36, 0.32)
    bar(xa, ya, D_SHWT1, val, verr, "black", -0.02, 0.45)
    txt((x0 + x1) / 2, y0 - 5, gene, 5.5, italic=True)
    leg([(legx[0], DGRAY, "IgG"), (legx[1], "black", "Flag")], y0 + 6, bw=9, bh=5, size=5)
    txt(ylx, (y0 + y1) / 2, "<i>TET2</i> occupancy (% Input)", 5.3, angle=-90)
    txt(x0 - 3, 598, "sh<i>WT1</i>", 4.8, anchor="right")
    txt(x0 - 3, 607, "TET2-Flag", 4.8, anchor="right")
    for i in range(3):
        ANN.append(dict(x=i + 0.05, y=Y(598), xref=xa, yref="paper", text="<b>" + D_SHWT1[i] + "</b>",
                        showarrow=False, font=dict(size=4.8, family=FONT, color="black")))
        ANN.append(dict(x=i + 0.05, y=Y(607), xref=xa, yref="paper", text="<b>" + D_TET2FLAG[i] + "</b>",
                        showarrow=False, font=dict(size=4.8, family=FONT, color="black")))


d_plot((131, 199, 515, 592), D_BTRC_IGG, D_BTRC_FLAG, D_BTRC_FLAG_ERR, [0, 0.6], 0.2, ".1f", "BTRC", (134, 172), 111)
d_plot((262, 338, 515, 592), D_DACT1_IGG, D_DACT1_FLAG, D_DACT1_FLAG_ERR, [0, 1.0], 0.2, ".1f", "DACT1", (270, 305), 245)
d_plot((398, 475, 515, 592), D_TBL1X_IGG, D_TBL1X_FLAG, D_TBL1X_FLAG_ERR, [0, 1.5], 0.5, ".1f", "TBL1X", (408, 443), 384)
d_plot((537, 613, 515, 592), D_NLK_IGG, D_NLK_FLAG, D_NLK_FLAG_ERR, [0, 0.4], 0.1, ".1f", "NLK", (547, 581), 521)

# ======================= PANEL E =======================
txt(49, 617, "E", 15)
txt(385, 618, "HL-60", 12.5)
seg(73, 629, 708, 629, "black", 1.2)


def e_plot(box, v1, e1, v2, e2, s1, s2, yr, dt, fmt, yr2, dt2, title):
    x0, x1, y0, y1 = box
    tf = dict(size=5.3, family=FONT, weight="bold", color="black")
    xa, ya, ya2 = axes(x0, x1, y0, y1,
                       xkw=dict(type="category", categoryorder="array", categoryarray=E_CATS,
                                range=[-0.6, 8.6], tickmode="array", tickvals=E_CATS, ticktext=E_SHTET2,
                                tickangle=0, ticks="", tickfont=dict(size=6.6, family=FONT, weight="bold", color="black"),
                                ticklabelstandoff=2),
                       ykw=dict(range=yr, dtick=dt, tickformat=fmt, tickfont=tf),
                       y2kw=dict(range=yr2, dtick=dt2, tickfont=tf))
    w = 0.38
    bar(xa, ya, E_CATS, v1, e1, GREEN, -w - 0.01, w, ew=1)
    bar(xa, ya2, E_CATS, v2, e2, RED, 0.01, w, ew=1)
    for i in range(len(E_CATS)):
        sig_text(xa, ya, i - w / 2 - 0.01, v1[i] + e1[i], s1[i], 4.2)
        sig_text(xa, ya2, i + w / 2 + 0.01, v2[i] + e2[i], s2[i], 4.2)
    g, suf = title.split("-")
    txt(x0 + 5, y0 - 4, "<i>" + g + "</i>-" + suf, 5.8, anchor="left")
    leg([(x1 - 64, GREEN, "5hmC"), (x1 - 31, RED, "5mC")], y0 - 4, bw=10, bh=5, size=5.5)
    txt(x0 - 22, (y0 + y1) / 2, "% 5hmC (GluMS-qPCR)", 6.3, angle=-90)
    txt(x1 + 12, (y0 + y1) / 2, "% 5mC (GluMS-qPCR)", 6.3, angle=90)
    txt(x0 - 5, y1 + 9, "sh<i>TET2</i>", 6.8, anchor="right")
    txt(x0 - 5, y1 + 21, "sh<i>WT1</i>", 6.8, anchor="right")
    for gi, gl in enumerate(["scr", "#1", "#2"]):
        SHP.append(dict(type="line", xref=xa, yref="paper", x0=gi * 3 - 0.4, x1=gi * 3 + 2.4,
                        y0=Y(y1 + 13.5), y1=Y(y1 + 13.5), line=dict(color="black", width=0.9)))
        ANN.append(dict(x=gi * 3 + 1, y=Y(y1 + 21), xref=xa, yref="paper", text="<b>" + gl + "</b>",
                        showarrow=False, font=dict(size=6.6, family=FONT, color="black")))


e_plot((70, 219, 652, 732), Ea_BTRC_5HMC, Ea_BTRC_5HMC_ERR, Ea_BTRC_5MC, Ea_BTRC_5MC_ERR,
       Ea_BTRC_SIG_H, E_SIG_M, [0, 0.2], 0.05, ".2f", [0, 70], 20, "BTRC-a")
e_plot((311, 462, 652, 732), Ea_DACT1_5HMC, Ea_DACT1_5HMC_ERR, Ea_DACT1_5MC, Ea_DACT1_5MC_ERR,
       Ea_DACT1_SIG_H, E_SIG_M, [0, 0.25], 0.05, ".2f", [0, 62], 20, "DACT1-a")
e_plot((550, 703, 652, 732), Ea_TBL1X_5HMC, Ea_TBL1X_5HMC_ERR, Ea_TBL1X_5MC, Ea_TBL1X_5MC_ERR,
       Ea_TBL1X_SIG_H, E_SIG_M, [0, 0.15], 0.05, ".2f", [0, 92], 20, "TBL1X-a")
e_plot((70, 219, 768, 846), Eb_BTRC_5HMC, Eb_BTRC_5HMC_ERR, Eb_BTRC_5MC, Eb_BTRC_5MC_ERR,
       Eb_BTRC_SIG_H, E_SIG_M, [0, 0.2], 0.05, ".2f", [0, 50], 10, "BTRC-b")
e_plot((311, 462, 768, 846), Eb_DACT1_5HMC, Eb_DACT1_5HMC_ERR, Eb_DACT1_5MC, Eb_DACT1_5MC_ERR,
       Eb_DACT1_SIG_H, E_SIG_M, [0, 0.08], 0.02, ".2f", [0, 60], 20, "DACT1-b")
e_plot((550, 703, 768, 846), Eb_TBL1X_5HMC, Eb_TBL1X_5HMC_ERR, Eb_TBL1X_5MC, Eb_TBL1X_5MC_ERR,
       Eb_TBL1X_SIG_H, E_SIG_M, [0, 0.2], 0.05, ".2f", [0, 80], 20, "TBL1X-b")

# ======================= PANEL F =======================
txt(130, 887, "F", 15)
txt(376, 887, "HL-60", 12.5)

fx0, fx1, fy0, fy1 = 188, 545, 899, 1017
xa, ya = axes(fx0, fx1, fy0, fy1,
              xkw=dict(type="category", categoryorder="array", categoryarray=E_CATS, range=[-0.55, 8.55],
                       tickmode="array", tickvals=E_CATS, ticktext=E_SHTET2, ticks="", tickangle=0,
                       tickfont=dict(size=7, family=FONT, weight="bold", color="black"), ticklabelstandoff=5),
              ykw=dict(range=[0, 1.5], dtick=0.5, tickformat=".1f",
                       tickfont=dict(size=7, family=FONT, color="black")),
              color="#222")
F_STYLES = [
    ("white", None),
    ("black", None),
    ("white", dict(shape="x", fgcolor="black", bgcolor="white", size=3, solidity=0.55)),
    ("white", dict(shape="/", fgcolor="black", bgcolor="white", size=3, solidity=0.3)),
    ("white", dict(shape="\\", fgcolor="#444", bgcolor="white", size=2.5, solidity=0.3)),
]
F_VALS = [(F_BTRC, F_BTRC_ERR), (F_DACT1, F_DACT1_ERR), (F_LEF1, F_LEF1_ERR), (F_TBL1X, F_TBL1X_ERR), (F_NLK, F_NLK_ERR)]
bw = 0.155
for k, ((vals, errs), (col, pat)) in enumerate(zip(F_VALS, F_STYLES)):
    bar(xa, ya, E_CATS, vals, errs, col, -2.5 * bw + k * bw, bw, lw=0.6, pattern=pat, ew=1.5)
txt(fx0 - 24, (fy0 + fy1) / 2, "Relative mRNA expression", 8, angle=-90, bold=False)
txt(fx0 - 1, 1029, "sh<i>TET2</i>", 7, anchor="right", bold=False)
txt(fx0 - 1, 1042, "sh<i>WT1</i>", 7, anchor="right", bold=False)
for gi, gl in enumerate(["scr", "#1", "#2"]):
    SHP.append(dict(type="line", xref=xa, yref="paper", x0=gi * 3 - 0.35, x1=gi * 3 + 2.35,
                    y0=Y(1035), y1=Y(1035), line=dict(color="black", width=1)))
    ANN.append(dict(x=gi * 3 + 1, y=Y(1042), xref=xa, yref="paper", text="<b>" + gl + "</b>",
                    showarrow=False, font=dict(size=7, family=FONT, color="black")))
# legend for F
for k, g in enumerate(F_GENES):
    yy = 906 + k * 11
    lx0, lx1 = 495, 506
    if k == 1:
        rect(lx0, yy - 3, lx1, yy + 3, "black")
    else:
        rect(lx0, yy - 3, lx1, yy + 3, "white")
    if k == 2:
        for cx in range(4):
            for cy in range(2):
                if (cx + cy) % 2 == 0:
                    rect(lx0 + 0.5 + cx * 2.5, yy - 2.5 + cy * 2.5, lx0 + 0.5 + (cx + 1) * 2.5, yy - 2.5 + (cy + 1) * 2.5, "black", "black", 0)
    if k in (3, 4):
        stp = 2.2 if k == 3 else 1.8
        xs = lx0 - 6
        while xs < lx1:
            a0, a1 = max(xs, lx0), min(xs + 6, lx1)
            if a1 > a0:
                seg(a0, yy + 3 - (a0 - xs), a1, yy + 3 - (a1 - xs), "#333", 0.5)
            xs += stp
    txt(lx1 + 5, yy, g, 6.2, anchor="left", italic=True)

# ======================= LAYOUT =======================
fig.update_layout(width=W, height=H, margin=dict(l=0, r=0, t=0, b=0), template="none",
                  paper_bgcolor="white", plot_bgcolor="white", showlegend=False, hovermode=False,
                  font=dict(family=FONT, color="black"), annotations=ANN, shapes=SHP, **LAY)
fig.write_html("out.html")
